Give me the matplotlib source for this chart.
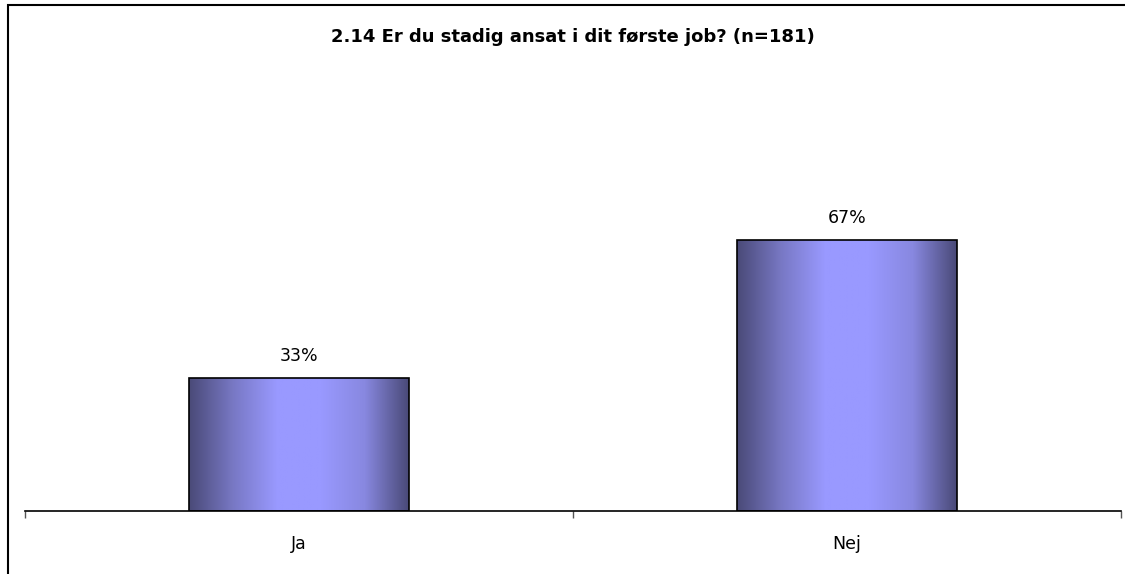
import matplotlib.pyplot as plt
import numpy as np
from matplotlib.colors import LinearSegmentedColormap
from matplotlib.patches import Rectangle

categories = ['Ja', 'Nej']
shares = [0.33, 0.67]
labels = ['33%', '67%']
title = '2.14 Er du stadig ansat i dit første job? (n=181)'

plt.rcParams['font.family'] = ['DejaVu Sans']

W, H = 1125, 574
fig = plt.figure(figsize=(W / 100, H / 100), dpi=100)

# ramme om hele diagrammet (højre/bund falder uden for billedet)
fig.patches.append(Rectangle((7.5 / W, -0.01), 1.2, 1 - 4.5 / H + 0.01,
                             transform=fig.transFigure, fill=False,
                             edgecolor='black', linewidth=1.5))

# plotområde: x 25..1121 px, bundlinje ved y=511 px
ax = fig.add_axes([25 / W, (H - 511) / H, 1096 / W, (511 - 188) / H])

grad = LinearSegmentedColormap.from_list(
    'bar', ['#4a4a78', '#7878c4', '#9999ff', '#9999ff', '#8888e0', '#4a4a78'])
ramp = np.linspace(0, 1, 256).reshape(1, -1)
width = 0.4

x = np.arange(len(categories))
bars = ax.bar(x, shares, width=width, facecolor='none', edgecolor='black',
              linewidth=1.2, zorder=3)
for b in bars:
    x0, y0 = b.get_x(), b.get_y()
    im = ax.imshow(ramp, cmap=grad, aspect='auto', zorder=2,
                   extent=[x0, x0 + b.get_width(), y0, y0 + b.get_height()])
    im.set_clip_path(b)

for xi, v, lab in zip(x, shares, labels):
    ax.annotate(lab, (xi, v), xytext=(0, 16), textcoords='offset points',
                ha='center', va='center', fontsize=12.5)

ax.set_xlim(-0.5, 1.5)
ax.set_ylim(0, 0.8)
for s in ['top', 'right', 'left']:
    ax.spines[s].set_visible(False)
ax.spines['bottom'].set_linewidth(1.2)
ax.set_yticks([])
ax.set_xticks([-0.5, 0.5, 1.5])
ax.set_xticklabels([])
ax.tick_params(axis='x', direction='out', length=5, width=1, color='#555555')
for xi, c in zip(x, categories):
    ax.annotate(c, (xi, 0), xytext=(0, -24), textcoords='offset points',
                ha='center', va='center', fontsize=12.5)

fig.text(573 / W, 1 - 37 / H, title, ha='center', va='center',
         fontsize=13, fontweight='bold')

fig.savefig('out.png', dpi=100)
